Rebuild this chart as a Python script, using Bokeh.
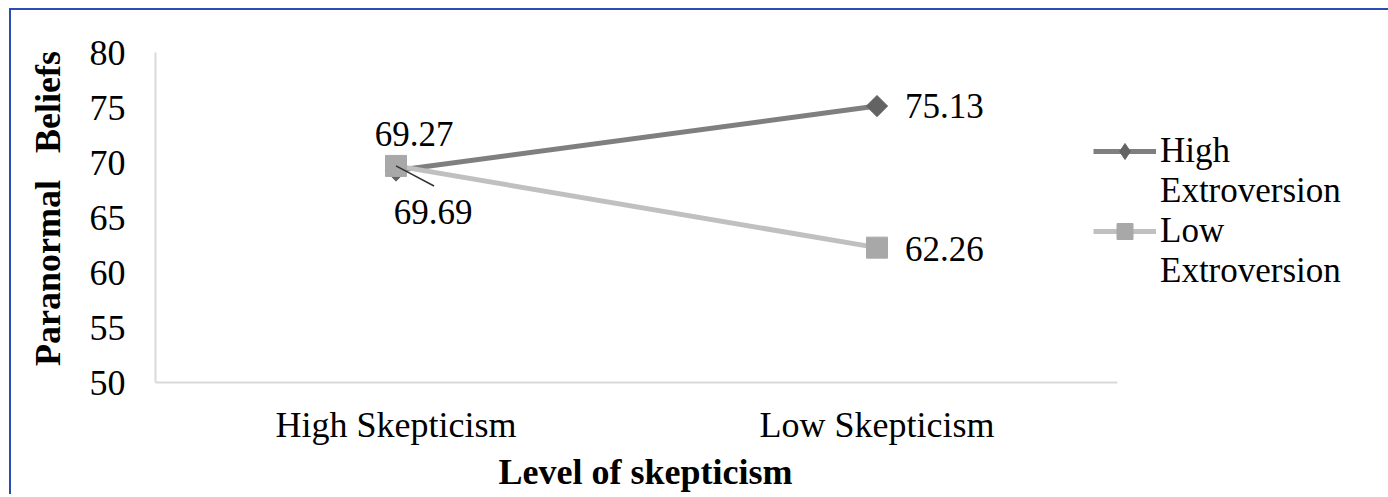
from bokeh.plotting import figure
from bokeh.models import FactorRange, Range1d, FixedTicker, Legend, LegendItem, ColumnDataSource
from bokeh.core.properties import value
from bokeh.embed import file_html
from bokeh.resources import INLINE

# ---- data ----
categories = ["High Skepticism", "Low Skepticism"]
high_extroversion = [69.27, 75.13]
low_extroversion = [69.69, 62.26]
legend_rows_high = ["High", "Extroversion"]
legend_rows_low = ["Low", "Extroversion"]
y_ticks = [50, 55, 60, 65, 70, 75, 80]
x_title = "\u00a0\u00a0Level of skepticism"
y_title = "\u00a0\u00a0Paranormal \u00a0\u00a0Beliefs"

# ---- style ----
FONT = "Liberation Serif"
FS = "35px"
FS_AX = "36px"
HIGH_LINE = "#7f7f7f"
HIGH_MARK = "#636363"
LOW_LINE = "#c0c0c0"
LOW_MARK = "#a8a8a8"
AXIS = "#d9d9d9"
B = 2  # css border width

p = figure(
    x_range=FactorRange(*categories),
    y_range=Range1d(y_ticks[0], y_ticks[-1]),
    frame_width=962, frame_height=330,
    min_border_left=144, min_border_right=262,
    min_border_top=42, min_border_bottom=112,
    margin=(8, 0, 0, 9),
    output_backend="svg", toolbar_location=None,
)
p.styles = {"border-left": f"{B}px solid #2a4db3", "border-top": f"{B}px solid #2a4db3"}
p.outline_line_color = None
p.xgrid.grid_line_color = None
p.ygrid.grid_line_color = None
p.background_fill_color = "white"
p.border_fill_color = "white"

# axes
p.yaxis.ticker = FixedTicker(ticks=y_ticks)
for ax in (p.xaxis[0], p.yaxis[0]):
    ax.axis_line_color = AXIS
    ax.axis_line_width = 2
    ax.major_tick_line_color = None
    ax.minor_tick_line_color = None
    ax.major_tick_out = 0
    ax.major_tick_in = 0
    ax.major_label_text_font = FONT
    ax.major_label_text_font_size = FS_AX
    ax.major_label_text_color = "black"
    ax.axis_label_text_font = FONT
    ax.axis_label_text_font_size = FS_AX
    ax.axis_label_text_font_style = "bold"
    ax.axis_label_text_color = "black"
p.yaxis.major_label_standoff = 30
p.yaxis.axis_label = y_title
p.yaxis.axis_label_standoff = 19
p.xaxis.major_label_standoff = 22
p.xaxis.axis_label = x_title
p.xaxis.axis_label_standoff = 4

# series
src_high = ColumnDataSource(dict(x=categories, y=high_extroversion))
src_low = ColumnDataSource(dict(x=categories, y=low_extroversion))

l_high = p.line("x", "y", source=src_high, line_color=HIGH_LINE, line_width=5)
m_high = p.scatter("x", "y", source=src_high, marker="square", angle=0.7854,
                   size=15, fill_color=HIGH_MARK, line_color=HIGH_MARK)
l_low = p.line("x", "y", source=src_low, line_color=LOW_LINE, line_width=5)
m_low = p.scatter("x", "y", source=src_low, marker="square",
                  size=21, fill_color=LOW_MARK, line_color=LOW_MARK)

# data labels
lab_kw = dict(text_font=value(FONT), text_font_size=FS, text_color="black",
              text_baseline="middle")
p.text(x=[categories[0]], y=[high_extroversion[0]], text=[f"{high_extroversion[0]:.2f}"],
       x_offset=18, y_offset=-37, text_align="center", **lab_kw)
p.text(x=[categories[0]], y=[low_extroversion[0]], text=[f"{low_extroversion[0]:.2f}"],
       x_offset=37, y_offset=46, text_align="center", **lab_kw)
p.ray(x=[categories[0]], y=[low_extroversion[0]], length=43, length_units="screen",
      angle=-27.8, angle_units="deg", line_color="#333333", line_width=1.5)
p.text(x=[categories[1]], y=[high_extroversion[1]], text=[f"{high_extroversion[1]:.2f}"],
       x_offset=28, y_offset=0, text_align="left", **lab_kw)
p.text(x=[categories[1]], y=[low_extroversion[1]], text=[f"{low_extroversion[1]:.2f}"],
       x_offset=28, y_offset=1, text_align="left", **lab_kw)

# legend: one row per text line; hidden diamond renderer supplies the legend symbol
leg_high_mark = p.scatter(x=categories, y=high_extroversion, marker="diamond",
                          fill_color=HIGH_MARK, line_color=HIGH_MARK, visible=False)
ghost = p.scatter(x=[], y=[], alpha=0)
legend = Legend(
    items=[
        LegendItem(label=legend_rows_high[0], renderers=[l_high, leg_high_mark]),
        LegendItem(label=legend_rows_high[1], renderers=[ghost]),
        LegendItem(label=legend_rows_low[0], renderers=[l_low, m_low]),
        LegendItem(label=legend_rows_low[1], renderers=[ghost]),
    ],
    location=(-24, 91),
    padding=0, margin=0, spacing=0,
    glyph_width=63, glyph_height=40, label_height=40, label_standoff=4,
    label_text_font=FONT, label_text_font_size=FS, label_text_color="black",
    border_line_color=None, background_fill_alpha=0, inactive_fill_alpha=0,
)
p.add_layout(legend, "right")

open("out.html", "w").write(file_html(p, INLINE))
